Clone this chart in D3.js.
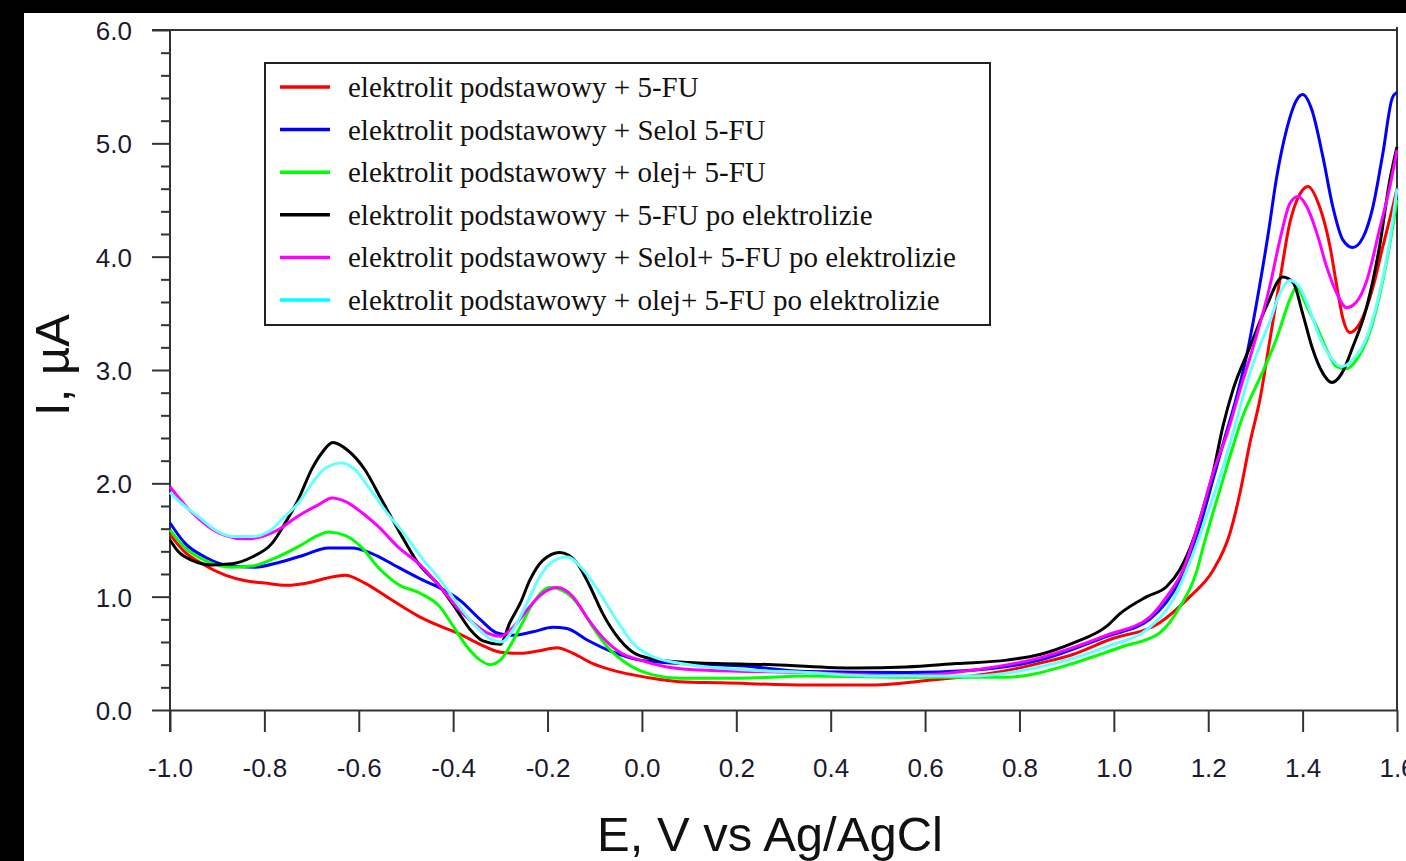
<!DOCTYPE html>
<html>
<head>
<meta charset="utf-8">
<script src="https://cdn.jsdelivr.net/npm/d3@7"></script>
<style>
  body { margin: 0; background: #ffffff; }
  svg { display: block; }
</style>
</head>
<body>
<script>
'use strict';

(function () {

  // legend labels, in drawing order
  const seriesNames = [
    "elektrolit podstawowy + 5-FU",
    "elektrolit podstawowy + Selol 5-FU",
    "elektrolit podstawowy + olej+ 5-FU",
    "elektrolit podstawowy + 5-FU po elektrolizie",
    "elektrolit podstawowy + Selol+ 5-FU po elektrolizie",
    "elektrolit podstawowy + olej+ 5-FU po elektrolizie"
  ];
  const lineColors = ["#ff0000", "#0000ff", "#00ff00", "#000000", "#ff00ff", "#66ffff"];
  const legendColors = ["#ff0000", "#0000ff", "#00ff00", "#000000", "#ff00ff", "#00ffff"];

  // [E (V), I (uA)]
  const redPts = [[-1.0, 1.55], [-0.97, 1.40], [-0.932, 1.29], [-0.883, 1.19], [-0.84, 1.14], [-0.799, 1.12],
    [-0.756, 1.10], [-0.699, 1.13], [-0.672, 1.16], [-0.629, 1.19], [-0.587, 1.12], [-0.53, 0.97], [-0.47, 0.82],
    [-0.428, 0.74], [-0.386, 0.67], [-0.343, 0.58], [-0.30, 0.51], [-0.258, 0.50], [-0.22, 0.52], [-0.18, 0.55],
    [-0.146, 0.50], [-0.104, 0.41], [-0.061, 0.35], [-0.019, 0.31], [0.038, 0.27], [0.08, 0.25], [0.17, 0.24],
    [0.35, 0.22], [0.477, 0.22], [0.604, 0.26], [0.75, 0.33], [0.85, 0.42], [0.913, 0.49], [0.99, 0.62],
    [1.097, 0.77], [1.161, 1.0], [1.21, 1.23], [1.246, 1.56], [1.267, 1.91], [1.288, 2.35], [1.31, 2.75],
    [1.33, 3.25], [1.352, 3.80], [1.373, 4.30], [1.394, 4.55], [1.411, 4.62], [1.436, 4.44], [1.458, 4.09],
    [1.472, 3.75], [1.485, 3.46], [1.50, 3.33], [1.521, 3.41], [1.549, 3.73], [1.57, 4.09], [1.591, 4.44], [1.6, 4.6]];

  const bluePts = [[-1.0, 1.65], [-0.968, 1.47], [-0.926, 1.35], [-0.883, 1.28], [-0.82, 1.26], [-0.771, 1.30],
    [-0.714, 1.37], [-0.665, 1.43], [-0.614, 1.43], [-0.572, 1.38], [-0.517, 1.26], [-0.466, 1.15], [-0.42, 1.06],
    [-0.386, 0.97], [-0.343, 0.80], [-0.307, 0.68], [-0.273, 0.66], [-0.231, 0.69], [-0.189, 0.73], [-0.159, 0.72],
    [-0.117, 0.62], [-0.061, 0.51], [-0.004, 0.44], [0.08, 0.41], [0.208, 0.39], [0.35, 0.34], [0.56, 0.33],
    [0.70, 0.35], [0.843, 0.44], [0.985, 0.65], [1.076, 0.80], [1.14, 1.15], [1.182, 1.62], [1.21, 2.03],
    [1.235, 2.40], [1.256, 2.70], [1.28, 3.10], [1.305, 3.65], [1.327, 4.20], [1.345, 4.70], [1.366, 5.12],
    [1.387, 5.38], [1.40, 5.43], [1.42, 5.29], [1.443, 4.88], [1.464, 4.44], [1.485, 4.15], [1.506, 4.08],
    [1.528, 4.17], [1.549, 4.44], [1.57, 4.91], [1.59, 5.40], [1.6, 5.45]];

  const greenPts = [[-1.0, 1.59], [-0.968, 1.43], [-0.926, 1.32], [-0.869, 1.26], [-0.826, 1.27], [-0.778, 1.34],
    [-0.729, 1.44], [-0.686, 1.54], [-0.665, 1.57], [-0.629, 1.54], [-0.593, 1.43], [-0.559, 1.26], [-0.517, 1.11],
    [-0.47, 1.03], [-0.428, 0.91], [-0.40, 0.74], [-0.371, 0.56], [-0.343, 0.44], [-0.322, 0.40], [-0.30, 0.44],
    [-0.28, 0.56], [-0.258, 0.73], [-0.231, 0.94], [-0.195, 1.08], [-0.159, 1.03], [-0.131, 0.91], [-0.104, 0.73],
    [-0.074, 0.56], [-0.032, 0.41], [0.023, 0.31], [0.08, 0.28], [0.2, 0.28], [0.35, 0.30], [0.55, 0.29],
    [0.773, 0.29], [0.913, 0.41], [0.97, 0.49], [1.019, 0.56], [1.097, 0.68], [1.14, 0.91], [1.176, 1.23],
    [1.19, 1.45], [1.21, 1.74], [1.231, 2.03], [1.252, 2.32], [1.273, 2.59], [1.295, 2.80], [1.316, 2.99],
    [1.345, 3.28], [1.373, 3.62], [1.387, 3.73], [1.409, 3.56], [1.43, 3.38], [1.451, 3.18], [1.472, 3.03],
    [1.493, 3.01], [1.514, 3.09], [1.542, 3.33], [1.57, 3.79], [1.59, 4.24], [1.6, 4.5]];

  const blackPts = [[-1.0, 1.50], [-0.983, 1.40], [-0.953, 1.32], [-0.911, 1.28], [-0.869, 1.29], [-0.826, 1.35],
    [-0.784, 1.47], [-0.756, 1.65], [-0.729, 1.85], [-0.699, 2.13], [-0.678, 2.27], [-0.655, 2.36], [-0.623, 2.29],
    [-0.587, 2.12], [-0.551, 1.85], [-0.515, 1.58], [-0.475, 1.30], [-0.428, 1.09], [-0.392, 0.88], [-0.364, 0.71],
    [-0.337, 0.61], [-0.30, 0.58], [-0.28, 0.77], [-0.258, 0.94], [-0.237, 1.15], [-0.21, 1.32], [-0.174, 1.39],
    [-0.138, 1.30], [-0.11, 1.09], [-0.083, 0.85], [-0.047, 0.62], [-0.011, 0.49], [0.038, 0.44], [0.1, 0.42],
    [0.278, 0.40], [0.455, 0.37], [0.56, 0.38], [0.667, 0.41], [0.773, 0.44], [0.843, 0.49], [0.913, 0.59],
    [0.985, 0.74], [1.013, 0.85], [1.07, 1.0], [1.112, 1.09], [1.14, 1.24], [1.168, 1.50], [1.19, 1.79],
    [1.21, 2.09], [1.231, 2.50], [1.252, 2.82], [1.288, 3.20], [1.323, 3.56], [1.358, 3.82], [1.38, 3.77],
    [1.40, 3.50], [1.42, 3.20], [1.443, 2.97], [1.462, 2.89], [1.483, 2.97], [1.506, 3.20], [1.536, 3.56],
    [1.563, 4.09], [1.585, 4.68], [1.6, 4.97]];

  const magentaPts = [[-1.0, 1.97], [-0.983, 1.88], [-0.953, 1.74], [-0.919, 1.62], [-0.883, 1.54], [-0.841, 1.51],
    [-0.805, 1.53], [-0.771, 1.59], [-0.729, 1.71], [-0.686, 1.81], [-0.656, 1.87], [-0.629, 1.84], [-0.593, 1.74],
    [-0.559, 1.62], [-0.517, 1.44], [-0.47, 1.28], [-0.428, 1.09], [-0.386, 0.88], [-0.358, 0.77], [-0.328, 0.68],
    [-0.30, 0.65], [-0.273, 0.73], [-0.244, 0.88], [-0.216, 1.01], [-0.18, 1.08], [-0.146, 1.0], [-0.117, 0.82],
    [-0.083, 0.64], [-0.047, 0.51], [-0.004, 0.44], [0.053, 0.38], [0.137, 0.35], [0.35, 0.33], [0.56, 0.30],
    [0.70, 0.35], [0.843, 0.46], [0.985, 0.66], [1.076, 0.82], [1.112, 1.0], [1.147, 1.24], [1.182, 1.68],
    [1.21, 2.09], [1.24, 2.44], [1.267, 2.82], [1.295, 3.20], [1.33, 3.73], [1.352, 4.15], [1.373, 4.47],
    [1.39, 4.53], [1.409, 4.44], [1.43, 4.21], [1.451, 3.91], [1.472, 3.68], [1.493, 3.55], [1.514, 3.60],
    [1.536, 3.79], [1.563, 4.24], [1.585, 4.62], [1.6, 4.94]];

  const cyanPts = [[-1.0, 1.92], [-0.983, 1.85], [-0.941, 1.71], [-0.905, 1.59], [-0.869, 1.53], [-0.826, 1.53],
    [-0.792, 1.57], [-0.756, 1.71], [-0.729, 1.82], [-0.699, 2.0], [-0.672, 2.13], [-0.635, 2.18], [-0.608, 2.12],
    [-0.58, 1.97], [-0.544, 1.76], [-0.505, 1.56], [-0.466, 1.34], [-0.428, 1.15], [-0.386, 0.91], [-0.35, 0.73],
    [-0.322, 0.63], [-0.297, 0.60], [-0.273, 0.71], [-0.244, 0.94], [-0.216, 1.18], [-0.189, 1.31], [-0.159, 1.35],
    [-0.125, 1.24], [-0.089, 1.03], [-0.053, 0.79], [-0.019, 0.59], [0.023, 0.47], [0.1, 0.40], [0.2, 0.36],
    [0.35, 0.33], [0.5, 0.30], [0.70, 0.30], [0.843, 0.38], [0.985, 0.56], [1.076, 0.73], [1.125, 0.97],
    [1.168, 1.38], [1.203, 1.79], [1.231, 2.14], [1.26, 2.56], [1.288, 2.97], [1.31, 3.22], [1.33, 3.42],
    [1.352, 3.68], [1.373, 3.79], [1.394, 3.73], [1.415, 3.53], [1.436, 3.29], [1.458, 3.12], [1.483, 3.03],
    [1.506, 3.09], [1.536, 3.29], [1.563, 3.68], [1.585, 4.15], [1.6, 4.6]];

  const allSeries = [redPts, bluePts, greenPts, blackPts, magentaPts, cyanPts];

  // tick values and labels
  const xTicks = [-1.0, -0.8, -0.6, -0.4, -0.2, 0.0, 0.2, 0.4, 0.6, 0.8, 1.0, 1.2, 1.4, 1.6];
  const xTickLabels = ["-1.0", "-0.8", "-0.6", "-0.4", "-0.2", "0.0", "0.2", "0.4", "0.6", "0.8", "1.0", "1.2", "1.4", "1.6"];
  const yTicks = [0, 1, 2, 3, 4, 5, 6];
  const yTickLabels = ["0.0", "1.0", "2.0", "3.0", "4.0", "5.0", "6.0"];
  const yMinorTicks = [0.2, 0.4, 0.6, 0.8, 1.2, 1.4, 1.6, 1.8, 2.2, 2.4, 2.6, 2.8, 3.2, 3.4, 3.6, 3.8,
    4.2, 4.4, 4.6, 4.8, 5.2, 5.4, 5.6, 5.8];

  let svgContainer = ""; // keep SVG reference in global scope

  window.onload = function () {
    svgContainer = d3.select('body')
      .append('svg')
      .attr('width', 1406)
      .attr('height', 861);

    drawBackground();
    let map = drawAxes();
    plotData(map);
    makeLegend();
    makeLabels();
  }

  // white page with the black bands at top and left
  function drawBackground() {
    svgContainer.append('rect')
      .attr('x', 0).attr('y', 0)
      .attr('width', 1406).attr('height', 861)
      .style('fill', '#ffffff');

    svgContainer.append('rect')
      .attr('x', 0).attr('y', 0)
      .attr('width', 1406).attr('height', 13)
      .style('fill', '#000000');

    svgContainer.append('rect')
      .attr('x', 0).attr('y', 0)
      .attr('width', 24).attr('height', 861)
      .style('fill', '#000000');
  }

  // draw the axes, ticks and frame
  function drawAxes() {
    let xScale = d3.scaleLinear()
      .domain([-1.0, 1.6])
      .range([170, 1397]);

    let yScale = d3.scaleLinear()
      .domain([0, 6])
      .range([710, 30]);

    // top and right frame lines
    svgContainer.append('line')
      .attr('x1', 152).attr('y1', yScale(6))
      .attr('x2', xScale(1.6)).attr('y2', yScale(6))
      .style('stroke', '#333333')
      .style('stroke-width', 2);

    svgContainer.append('line')
      .attr('x1', xScale(1.6)).attr('y1', 27)
      .attr('x2', xScale(1.6)).attr('y2', 710)
      .style('stroke', '#333333')
      .style('stroke-width', 2);

    // x-axis at bottom
    let xAxis = d3.axisBottom(xScale)
      .tickValues(xTicks)
      .tickFormat((d, i) => xTickLabels[i])
      .tickSize(22)
      .tickSizeOuter(0);

    let gx = svgContainer.append('g')
      .attr('transform', 'translate(0,' + 710 + ')')
      .call(xAxis);

    gx.selectAll('text')
      .attr('y', 67)
      .attr('dy', 0)
      .style('font-family', '"Liberation Sans", Arial, sans-serif')
      .style('font-size', '26px')
      .style('fill', '#1a1a30');

    // y-axis minor ticks
    let yMinor = d3.axisLeft(yScale)
      .tickValues(yMinorTicks)
      .tickFormat('')
      .tickSize(9)
      .tickSizeOuter(0);

    svgContainer.append('g')
      .attr('transform', 'translate(170, 0)')
      .call(yMinor)
      .select('.domain').remove();

    // y-axis major ticks with labels
    let yAxis = d3.axisLeft(yScale)
      .tickValues(yTicks)
      .tickFormat((d, i) => yTickLabels[i])
      .tickSize(18)
      .tickPadding(20)
      .tickSizeOuter(0);

    let gy = svgContainer.append('g')
      .attr('transform', 'translate(170, 0)')
      .call(yAxis);

    gy.selectAll('text')
      .attr('dy', '0.36em')
      .style('font-family', '"Liberation Sans", Arial, sans-serif')
      .style('font-size', '26px')
      .style('fill', '#1a1a30');

    // left axis line runs down to the end of the -1.0 tick
    gy.select('.domain')
      .attr('d', 'M0,' + yScale(6) + 'V' + (yScale(0) + 22));

    svgContainer.selectAll('.tick line')
      .style('stroke', '#333333')
      .style('stroke-width', 2);
    svgContainer.selectAll('.domain')
      .style('stroke', '#333333')
      .style('stroke-width', 2);

    return { xScale: xScale, yScale: yScale };
  }

  // plot the six voltammograms
  function plotData(map) {
    let line = d3.line()
      .x((d) => map.xScale(d[0]))
      .y((d) => map.yScale(d[1]))
      .curve(d3.curveMonotoneX);

    svgContainer.selectAll('.curve')
      .data(allSeries)
      .enter()
      .append('path')
      .attr('class', 'curve')
      .attr('d', (d) => line(d))
      .style('fill', 'none')
      .style('stroke', (d, i) => lineColors[i])
      .style('stroke-width', 3)
      .style('stroke-linejoin', 'round');
  }

  function makeLegend() {
    svgContainer.append('rect')
      .attr('x', 265)
      .attr('y', 63)
      .attr('width', 725)
      .attr('height', 262)
      .style('stroke', '#222222')
      .style('fill', '#ffffff')
      .style('stroke-width', 2);

    let rows = svgContainer.selectAll('.legendRow')
      .data(seriesNames)
      .enter()
      .append('g')
      .attr('class', 'legendRow')
      .attr('transform', (d, i) => 'translate(0,' + (87 + i * 42.6) + ')');

    rows.append('line')
      .attr('x1', 280).attr('y1', 0)
      .attr('x2', 330).attr('y2', 0)
      .style('stroke', (d, i) => legendColors[i])
      .style('stroke-width', 3.5);

    rows.append('text')
      .attr('x', 348)
      .attr('y', 10)
      .style('font-family', '"Liberation Serif", "Times New Roman", serif')
      .style('font-size', '29px')
      .style('fill', '#111111')
      .text((d) => d);
  }

  function makeLabels() {
    svgContainer.append('text')
      .attr('x', 770)
      .attr('y', 851)
      .attr('text-anchor', 'middle')
      .style('font-family', '"Liberation Sans", Arial, sans-serif')
      .style('font-size', '49px')
      .style('fill', '#111111')
      .text('E, V vs Ag/AgCl');

    svgContainer.append('text')
      .attr('transform', 'translate(69, 365)rotate(-90)')
      .attr('text-anchor', 'middle')
      .style('font-family', '"Liberation Sans", Arial, sans-serif')
      .style('font-size', '49px')
      .style('fill', '#111111')
      .text('I, \u00b5A');
  }

})();
</script>
</body>
</html>
